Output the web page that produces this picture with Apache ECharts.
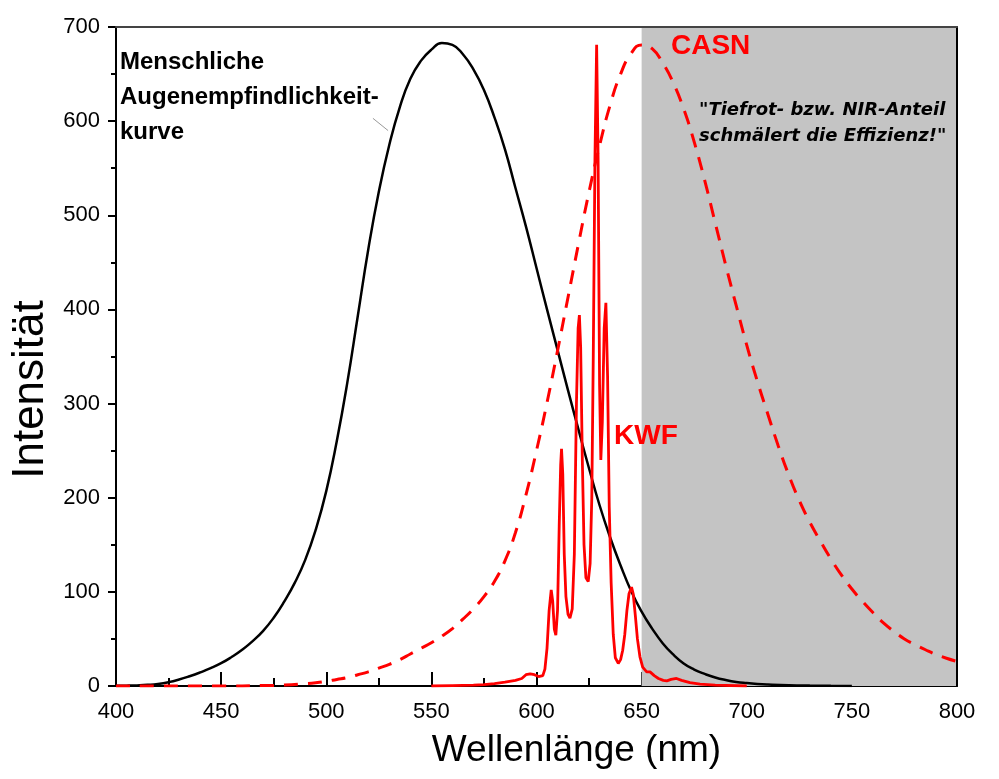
<!DOCTYPE html>
<html>
<head>
<meta charset="utf-8">
<script src="https://cdn.jsdelivr.net/npm/echarts@6/dist/echarts.min.js"></script>
<style>
  html, body { margin: 0; padding: 0; background: #fff; }
  #chart { width: 999px; height: 779px; }
</style>
</head>
<body>
<div id="chart"></div>
<script>
// Augenempfindlichkeit (V-lambda, skaliert)
var eyeNm  = [400,405,410,415,420,425,430,435,440,445,450,455,460,465,470,475,480,485,490,495,500,505,510,515,520,525,530,535,540,545,550,555,560,565,570,575,580,585,590,595,600,605,610,615,620,625,630,635,640,645,650,655,660,665,670,675,680,685,690,695,700,705,710,720,730,740,750];
var eyeVal = [0.2,0.35,0.65,1.2,2.2,4.1,6.9,10.4,14.4,18.9,24.2,30.8,38.5,47.7,58.6,72.5,89.6,109.5,134,166,207,260,322,393,464,525,575,615,645,664,676,683,681,671,655,633,604,570,529,488,444,400,357,314,272,231,192,158,128,101,79,61,45.5,33.5,24,17.5,12.8,9,6.3,4.3,3.1,2.2,1.6,0.8,0.4,0.2,0.1];

// KWF Leuchtstoff
var kwfNm  = [550,560,570,575,580,585,590,593,595,597,599,601,603,604,605,606,607,607.7,608.5,609.2,610,610.8,611.5,611.9,612.5,613.2,614,615,615.9,617,618,619,619.8,620.4,621,621.8,622.6,623.5,624.6,625.5,626.3,627,627.8,628.6,629.3,630,630.6,631.3,632.2,633,633.8,634.6,635.5,636.5,637.5,638.9,640,641,642,643,644,645.2,646,647,648,649.2,650.5,652.4,654,656,658,660.3,662,664,666.6,669,673,677.8,685,700];
var kwfVal = [0,0.5,1,1.5,2.5,4,6,8,12,13,12,10,11,18,40,80,102,90,60,54,80,170,235,252,225,140,95,76,72,82,140,300,380,394,360,240,150,115,111,130,200,350,560,681,560,320,240,280,380,407,330,190,110,55,30,24,28,38,55,80,98,105,98,75,50,31,20,15,15,11,8,6,5.5,7,8,6,3.5,2,1,0];

// CASN Leuchtstoff
var casnNm  = [400,450,470,480,490,495,500,505,510,515,520,525,530,535,540,545,550,555,560,565,570,575,580,585,590,595,600,605,610,615,620,625,630,635,640,645,650,655,660,665,670,675,680,685,690,695,700,705,710,715,720,725,730,735,740,745,750,755,760,765,770,775,780,785,790,795,800];
var casnVal = [0,0,0.5,1,2.5,3.5,5,7,9,12,15,19,23,28,34,40,46,53,61,71,82,95,111,133,163,203,250,301,356,413,470,525,574,617,650,672,681,677,662,641,613,578,537,492,447,404,362,324,289,255,224,197,174,154,135,118,103,90,78,67,58,50,44,38.5,33.5,29.5,26];

var xTicks = [400,450,500,550,600,650,700,750,800];
var yTicks = [0,100,200,300,400,500,600,700];
var nirRange = [650, 800];

function pairs(xs, ys) {
  var out = [];
  for (var i = 0; i < xs.length; i++) out.push([xs[i], ys[i]]);
  return out;
}

var chart = echarts.init(document.getElementById('chart'));
var labelFont = "'Liberation Sans', Arial, sans-serif";

chart.setOption({
  animation: false,
  backgroundColor: '#fff',
  grid: { left: 116, right: 42, top: 27, bottom: 93 },
  xAxis: [{
    type: 'value',
    min: xTicks[0], max: xTicks[xTicks.length - 1], interval: 50,
    name: 'Wellenlänge (nm)',
    nameLocation: 'middle', nameGap: 46,
    nameTextStyle: { fontSize: 37, fontFamily: labelFont, color: '#000', padding: [0, 0, 0, 80] },
    axisLine: { lineStyle: { color: '#000', width: 2 } },
    axisTick: { inside: true, length: 14, lineStyle: { color: '#000', width: 2 } },
    minorTick: { show: true, splitNumber: 2, length: 8, lineStyle: { color: '#000', width: 2 } },
    axisLabel: { fontSize: 22, margin: 15, color: '#000', fontFamily: labelFont },
    splitLine: { show: false }
  }, {
    type: 'value', position: 'top',
    min: xTicks[0], max: xTicks[xTicks.length - 1],
    z: 10,
    axisLine: { show: true, onZero: false, lineStyle: { color: '#444', width: 2 } },
    axisTick: { show: false }, axisLabel: { show: false }, splitLine: { show: false }
  }],
  yAxis: [{
    type: 'value',
    min: yTicks[0], max: yTicks[yTicks.length - 1], interval: 100,
    name: 'Intensität',
    nameLocation: 'middle', nameGap: 58, nameRotate: 90,
    nameTextStyle: { fontSize: 44, fontFamily: labelFont, color: '#000', padding: [0, 66, 0, 0] },
    axisLine: { show: true, lineStyle: { color: '#000', width: 2 } },
    axisTick: { show: true, length: 8, lineStyle: { color: '#000', width: 2 } },
    minorTick: { show: true, splitNumber: 2, length: 5, lineStyle: { color: '#000', width: 2 } },
    axisLabel: { fontSize: 22, margin: 16, color: '#000', fontFamily: labelFont },
    splitLine: { show: false }
  }, {
    type: 'value', position: 'right',
    min: yTicks[0], max: yTicks[yTicks.length - 1],
    z: 10,
    axisLine: { show: true, onZero: false, lineStyle: { color: '#000', width: 2 } },
    axisTick: { show: false }, axisLabel: { show: false }, splitLine: { show: false }
  }],
  series: [
    {
      // grauer Bereich (Tiefrot / NIR)
      type: 'line', data: [], z: 1, silent: true,
      markArea: {
        silent: true,
        itemStyle: { color: '#c4c4c4', opacity: 1 },
        data: [[{ xAxis: nirRange[0] }, { xAxis: nirRange[1] }]]
      }
    },
    {
      name: 'Augenempfindlichkeit', type: 'line',
      data: pairs(eyeNm, eyeVal), smooth: 0.5, showSymbol: false,
      lineStyle: { color: '#000', width: 2.5 }, z: 3,
      markLine: {
        silent: true, symbol: 'none',
        lineStyle: { color: '#999', width: 1, type: 'solid' },
        label: { show: false },
        data: [[{ coord: [522.2, 603] }, { coord: [529.4, 590] }]]
      }
    },
    {
      name: 'CASN', type: 'line',
      data: pairs(casnNm, casnVal), smooth: 0.5, showSymbol: false,
      lineStyle: { color: '#ff0000', width: 3, type: [14, 10] }, z: 4
    },
    {
      name: 'KWF', type: 'line',
      data: pairs(kwfNm, kwfVal), showSymbol: false,
      lineStyle: { color: '#ff0000', width: 2.8 }, z: 5
    }
  ],
  graphic: [
    {
      type: 'text', left: 120, top: 45, z: 20,
      style: {
        text: 'Menschliche\nAugenempfindlichkeit-\nkurve',
        font: "bold 24px 'Liberation Sans', Arial, sans-serif",
        lineHeight: 35, fill: '#000'
      }
    },
    {
      type: 'text', left: 671, top: 32, z: 20,
      style: { text: 'CASN', font: "bold 28px 'Liberation Sans', Arial, sans-serif", fill: '#ff0000' }
    },
    {
      type: 'text', left: 614, top: 422, z: 20,
      style: { text: 'KWF', font: "bold 28px 'Liberation Sans', Arial, sans-serif", fill: '#ff0000' }
    },
    {
      type: 'text', left: 699, top: 97, z: 20,
      style: {
        text: '"Tiefrot- bzw. NIR-Anteil\nschmälert die Effizienz!"',
        font: "italic bold 18px 'DejaVu Sans', Verdana, sans-serif",
        lineHeight: 26, fill: '#000'
      }
    }
  ]
});
</script>
</body>
</html>
